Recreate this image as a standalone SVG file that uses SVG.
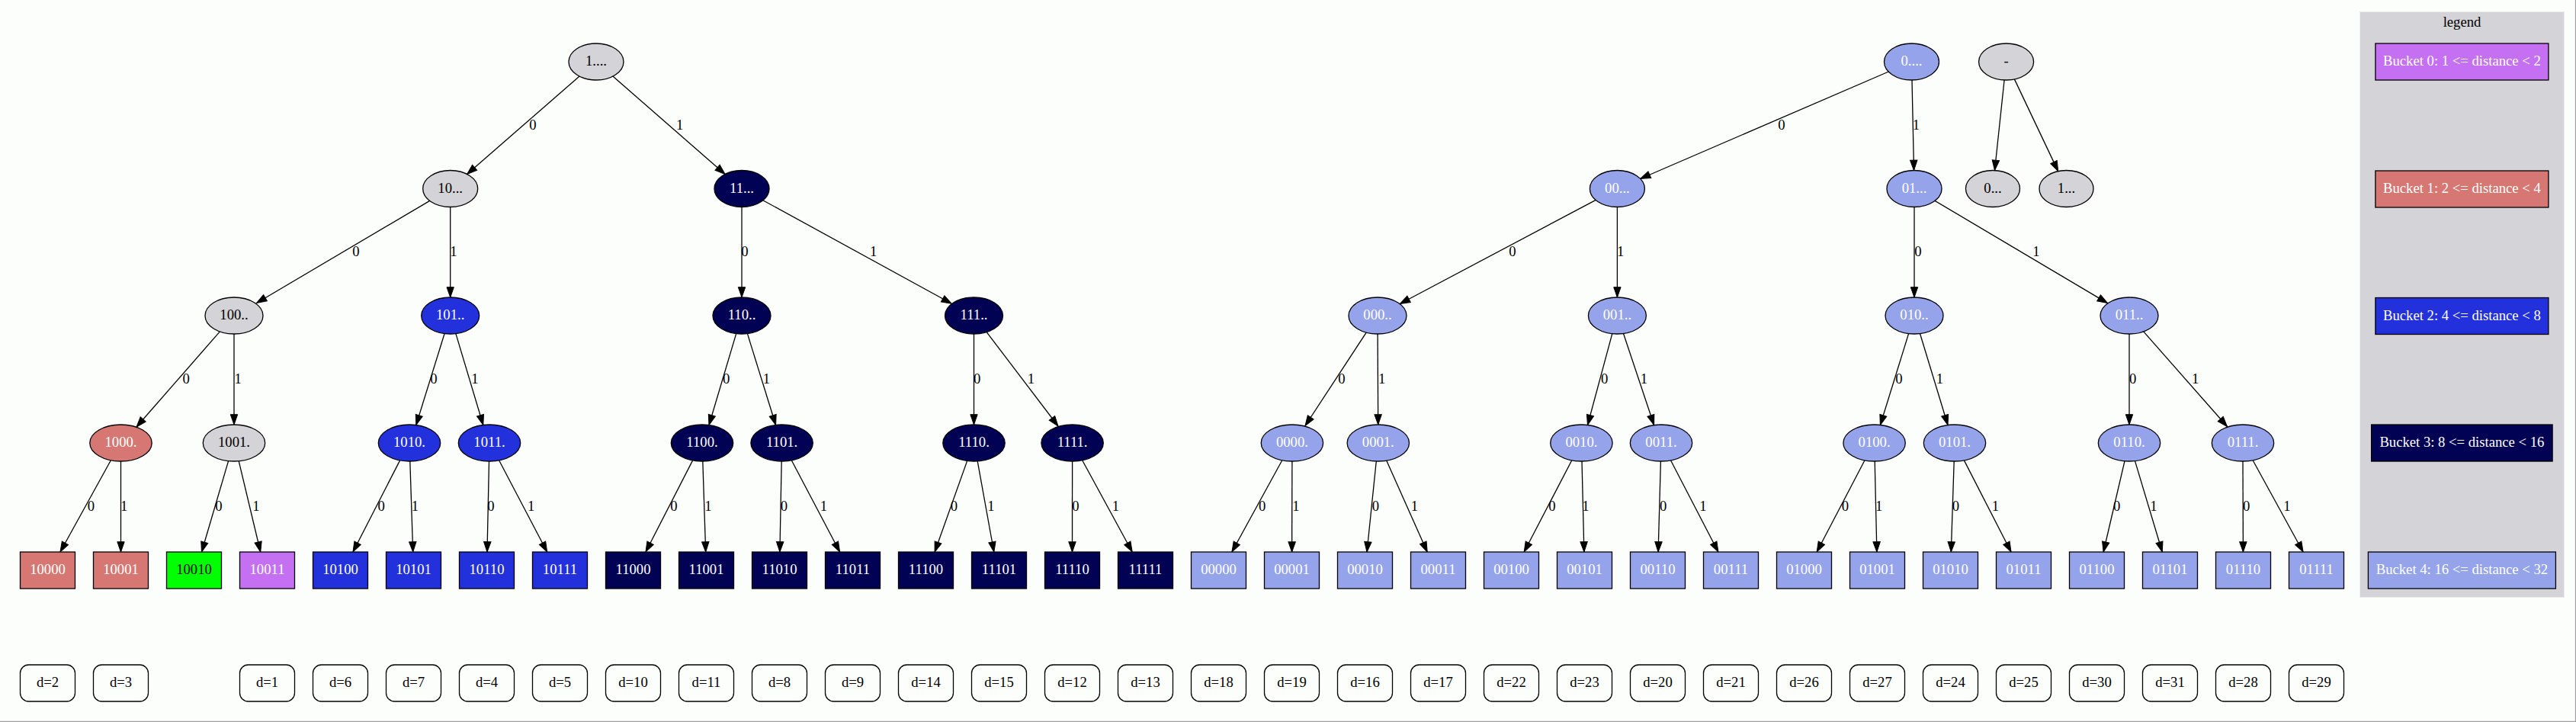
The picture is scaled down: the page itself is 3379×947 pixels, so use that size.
<svg xmlns="http://www.w3.org/2000/svg" width="3379" height="947" viewBox="0 0 3379 947">
<style>
.n{stroke:#000;stroke-width:1.3}
.g{fill:#d4d3d7}.r{fill:#d67773}.gr{fill:#00ff00}.v{fill:#c570f2}.b{fill:#2331dd}.nv{fill:#020255}.lb{fill:#95a3ea}
.t{font-family:"Liberation Serif","Times New Roman",serif;font-size:18.67px;text-anchor:middle;fill:#000}
.w{fill:#fff}
.e{stroke:#000;stroke-width:1.3;fill:none;marker-end:url(#ah)}
.d{fill:none;stroke:#000;stroke-width:1.3}
</style>
<defs>
<marker id="ah" markerUnits="userSpaceOnUse" markerWidth="15" markerHeight="11" refX="13.3" refY="4.67" orient="auto" overflow="visible"><path d="M0,0 L13.3,4.67 L0,9.33 Z" fill="#000" stroke="#000" stroke-width="1"/></marker>
</defs>
<rect x="0" y="0" width="3379" height="947" fill="#fcfefc"/>
<line x1="3378.5" y1="0" x2="3378.5" y2="947" stroke="#a0a0a0" stroke-width="1.3"/>
<line x1="0" y1="946.3" x2="3379" y2="946.3" stroke="#a0a0a0" stroke-width="1.3"/>

<g id="legend">
<rect x="3095.5" y="15.5" width="268" height="768" fill="#d4d3d7" stroke="#ececec" stroke-width="1"/>
<text class="t" x="3229.5" y="35">legend</text>
<g id="bucket0"><rect class="n v" x="3115.9" y="57" width="227" height="48"/><text class="t w" x="3229.4" y="86">Bucket 0: 1 &lt;= distance &lt; 2</text></g>
<g id="bucket1"><rect class="n r" x="3115.9" y="224" width="227" height="48"/><text class="t w" x="3229.4" y="253">Bucket 1: 2 &lt;= distance &lt; 4</text></g>
<g id="bucket2"><rect class="n b" x="3115.9" y="390.5" width="227" height="48"/><text class="t w" x="3229.4" y="419.5">Bucket 2: 4 &lt;= distance &lt; 8</text></g>
<g id="bucket3"><rect class="n nv" x="3110.6" y="557" width="237.5" height="48"/><text class="t w" x="3229.4" y="586">Bucket 3: 8 &lt;= distance &lt; 16</text></g>
<g id="bucket4"><rect class="n lb" x="3106.4" y="724" width="246" height="48"/><text class="t w" x="3229.4" y="753">Bucket 4: 16 &lt;= distance &lt; 32</text></g>
</g>

<g id="connectors">
<path class="e" d="M760.1,100.1 L612.6,228.5"/>
<path class="e" d="M803.9,100.1 L951.1,228.4"/>
<path class="e" d="M2477.3,94 L2151.6,234.5"/>
<path class="e" d="M2508,105 L2510.5,223.5"/>
<path class="e" d="M2629.1,105 L2616.5,223.5"/>
<path class="e" d="M2642.4,103.9 L2699.7,224.6"/>

<path class="e" d="M563.7,263.4 L336.5,397.5"/>
<path class="e" d="M590.7,271.5 L590.7,390"/>
<path class="e" d="M973,271.5 L973,390"/>
<path class="e" d="M1000.8,262.7 L1248.3,398.3"/>
<path class="e" d="M2093.2,262.4 L1836.3,398.5"/>
<path class="e" d="M2121.4,271.5 L2121.4,390"/>
<path class="e" d="M2511,271.5 L2511,390"/>
<path class="e" d="M2538,263.4 L2764.5,397.6"/>

<path class="e" d="M288.4,434.9 L179,560"/>
<path class="e" d="M307,438 L307,557"/>
<path class="e" d="M583.1,437.5 L545.8,557.5"/>
<path class="e" d="M597.9,437.6 L633.8,557.5"/>
<path class="e" d="M965.7,437.6 L930,557.5"/>
<path class="e" d="M980.4,437.6 L1017.6,557.5"/>
<path class="e" d="M1277.5,438 L1277.5,557"/>
<path class="e" d="M1294.2,435.6 L1388,559"/>
<path class="e" d="M1792.2,436.1 L1712,558.5"/>
<path class="e" d="M1807.1,438 L1807.7,557"/>
<path class="e" d="M2114.8,437.6 L2082.5,557.5"/>
<path class="e" d="M2129.5,437.5 L2169.6,557.5"/>
<path class="e" d="M2503.6,437.6 L2466.4,557.5"/>
<path class="e" d="M2518.5,437.5 L2555,557.5"/>
<path class="e" d="M2793,438 L2793,557"/>
<path class="e" d="M2811.7,434.9 L2921.5,559.5"/>

<path class="e" d="M145.4,603.7 L79,724"/>
<path class="e" d="M158.5,605 L158.5,724"/>
<path class="e" d="M299.6,604.6 L264.5,724"/>
<path class="e" d="M313.2,604.7 L341.7,724"/>
<path class="e" d="M524.6,603.9 L463,724"/>
<path class="e" d="M537.8,605 L541.7,724"/>
<path class="e" d="M641.5,605 L639,724"/>
<path class="e" d="M654.6,603.8 L717.7,724"/>
<path class="e" d="M908.6,603.9 L847,724"/>
<path class="e" d="M921.8,605 L925.7,724"/>
<path class="e" d="M1025.2,605 L1022.9,724"/>
<path class="e" d="M1038.3,603.8 L1101.6,724"/>
<path class="e" d="M1268.7,604.4 L1226.1,724"/>
<path class="e" d="M1282.2,604.8 L1303.8,724"/>
<path class="e" d="M1406.6,605 L1406.5,724"/>
<path class="e" d="M1419.7,603.7 L1485.2,724"/>
<path class="e" d="M1681.8,603.7 L1615.9,724"/>
<path class="e" d="M1694.9,605 L1694.6,724"/>
<path class="e" d="M1805.3,605 L1793,724"/>
<path class="e" d="M1818.7,604.1 L1872.2,724"/>
<path class="e" d="M2061.8,603.8 L1999.2,724"/>
<path class="e" d="M2075,605 L2077.9,724"/>
<path class="e" d="M2178.4,605 L2175.1,724"/>
<path class="e" d="M2191.5,603.8 L2253.9,724"/>
<path class="e" d="M2446,603.8 L2383.2,724"/>
<path class="e" d="M2459.2,605 L2461.9,724"/>
<path class="e" d="M2563.2,605 L2559.3,724"/>
<path class="e" d="M2576.4,603.9 L2638,724"/>
<path class="e" d="M2787,604.7 L2759.1,724"/>
<path class="e" d="M2800.5,604.6 L2836.3,724"/>
<path class="e" d="M2942,605 L2942.4,724"/>
<path class="e" d="M2955.1,603.7 L3021.1,724"/>

<g id="edge-labels" class="t">
<text x="699" y="170">0</text><text x="891.6" y="170">1</text><text x="2337" y="170">0</text><text x="2513.5" y="170">1</text>
<text x="467" y="336">0</text><text x="595" y="336">1</text><text x="977" y="336">0</text><text x="1145.6" y="336">1</text>
<text x="1984" y="336">0</text><text x="2125.6" y="336">1</text><text x="2515.8" y="336">0</text><text x="2671" y="336">1</text>
<text x="244.1" y="502.5">0</text><text x="312.2" y="502.5">1</text><text x="569" y="502.5">0</text><text x="623" y="502.5">1</text>
<text x="952.6" y="502.5">0</text><text x="1005.3" y="502.5">1</text><text x="1281.7" y="502.5">0</text><text x="1352.5" y="502.5">1</text>
<text x="1760" y="502.5">0</text><text x="1812.7" y="502.5">1</text><text x="2104.6" y="502.5">0</text><text x="2156.5" y="502.5">1</text>
<text x="2491" y="502.5">0</text><text x="2544.4" y="502.5">1</text><text x="2797.7" y="502.5">0</text><text x="2879.7" y="502.5">1</text>
<text x="119.3" y="670">0</text><text x="162.7" y="670">1</text><text x="286.9" y="670">0</text><text x="336" y="670">1</text>
<text x="500.2" y="670">0</text><text x="544.4" y="670">1</text><text x="644" y="670">0</text><text x="696.6" y="670">1</text>
<text x="883.9" y="670">0</text><text x="928.8" y="670">1</text><text x="1028.4" y="670">0</text><text x="1080.3" y="670">1</text>
<text x="1251.5" y="670">0</text><text x="1300" y="670">1</text><text x="1410.8" y="670">0</text><text x="1463.4" y="670">1</text>
<text x="1655.6" y="670">0</text><text x="1699.8" y="670">1</text><text x="1804.3" y="670">0</text><text x="1855.5" y="670">1</text>
<text x="2035.8" y="670">0</text><text x="2080" y="670">1</text><text x="2181.7" y="670">0</text><text x="2233.8" y="670">1</text>
<text x="2420.3" y="670">0</text><text x="2464.7" y="670">1</text><text x="2565.4" y="670">0</text><text x="2617.3" y="670">1</text>
<text x="2776.7" y="670">0</text><text x="2824.8" y="670">1</text><text x="2946.6" y="670">0</text><text x="3000" y="670">1</text>
</g>
</g>

<g id="n-1"><ellipse class="n g" cx="782" cy="81" rx="36" ry="24"/><text class="t" x="782" y="86">1....</text></g>
<g id="n-0"><ellipse class="n lb" cx="2507.5" cy="81" rx="36" ry="24"/><text class="t w" x="2507.5" y="86">0....</text></g>
<g id="n-dash"><ellipse class="n g" cx="2631.6" cy="81" rx="36" ry="24"/><text class="t" x="2631.6" y="86">-</text></g>

<g id="n-10"><ellipse class="n g" cx="590.7" cy="247.5" rx="36" ry="24"/><text class="t" x="590.7" y="252.5">10...</text></g>
<g id="n-11"><ellipse class="n nv" cx="973" cy="247.5" rx="36" ry="24"/><text class="t w" x="973" y="252.5">11...</text></g>
<g id="n-00"><ellipse class="n lb" cx="2121.4" cy="247.5" rx="36" ry="24"/><text class="t w" x="2121.4" y="252.5">00...</text></g>
<g id="n-01"><ellipse class="n lb" cx="2511" cy="247.5" rx="36" ry="24"/><text class="t w" x="2511" y="252.5">01...</text></g>
<g id="n-0x"><ellipse class="n g" cx="2614" cy="247.5" rx="35.5" ry="24"/><text class="t" x="2614" y="252.5">0...</text></g>
<g id="n-1x"><ellipse class="n g" cx="2710.5" cy="247.5" rx="35.5" ry="24"/><text class="t" x="2710.5" y="252.5">1...</text></g>

<g id="n-100"><ellipse class="n g" cx="307" cy="414" rx="38" ry="24"/><text class="t" x="307" y="419">100..</text></g>
<g id="n-101"><ellipse class="n b" cx="590.7" cy="414" rx="38" ry="24"/><text class="t w" x="590.7" y="419">101..</text></g>
<g id="n-110"><ellipse class="n nv" cx="973" cy="414" rx="38" ry="24"/><text class="t w" x="973" y="419">110..</text></g>
<g id="n-111"><ellipse class="n nv" cx="1277.5" cy="414" rx="38" ry="24"/><text class="t w" x="1277.5" y="419">111..</text></g>
<g id="n-000"><ellipse class="n lb" cx="1807" cy="414" rx="38" ry="24"/><text class="t w" x="1807" y="419">000..</text></g>
<g id="n-001"><ellipse class="n lb" cx="2121.4" cy="414" rx="38" ry="24"/><text class="t w" x="2121.4" y="419">001..</text></g>
<g id="n-010"><ellipse class="n lb" cx="2511" cy="414" rx="38" ry="24"/><text class="t w" x="2511" y="419">010..</text></g>
<g id="n-011"><ellipse class="n lb" cx="2793" cy="414" rx="38" ry="24"/><text class="t w" x="2793" y="419">011..</text></g>

<g id="n-1000"><ellipse class="n r" cx="158.5" cy="581" rx="40.7" ry="24"/><text class="t w" x="158.5" y="586">1000.</text></g>
<g id="n-1001"><ellipse class="n g" cx="307" cy="581" rx="40.7" ry="24"/><text class="t" x="307" y="586">1001.</text></g>
<g id="n-1010"><ellipse class="n b" cx="537" cy="581" rx="40.7" ry="24"/><text class="t w" x="537" y="586">1010.</text></g>
<g id="n-1011"><ellipse class="n b" cx="642" cy="581" rx="40.7" ry="24"/><text class="t w" x="642" y="586">1011.</text></g>
<g id="n-1100"><ellipse class="n nv" cx="921" cy="581" rx="40.7" ry="24"/><text class="t w" x="921" y="586">1100.</text></g>
<g id="n-1101"><ellipse class="n nv" cx="1025.6" cy="581" rx="40.7" ry="24"/><text class="t w" x="1025.6" y="586">1101.</text></g>
<g id="n-1110"><ellipse class="n nv" cx="1277.5" cy="581" rx="40.7" ry="24"/><text class="t w" x="1277.5" y="586">1110.</text></g>
<g id="n-1111"><ellipse class="n nv" cx="1406.6" cy="581" rx="40.7" ry="24"/><text class="t w" x="1406.6" y="586">1111.</text></g>
<g id="n-0000"><ellipse class="n lb" cx="1694.9" cy="581" rx="40.7" ry="24"/><text class="t w" x="1694.9" y="586">0000.</text></g>
<g id="n-0001"><ellipse class="n lb" cx="1807.8" cy="581" rx="40.7" ry="24"/><text class="t w" x="1807.8" y="586">0001.</text></g>
<g id="n-0010"><ellipse class="n lb" cx="2074.4" cy="581" rx="40.7" ry="24"/><text class="t w" x="2074.4" y="586">0010.</text></g>
<g id="n-0011"><ellipse class="n lb" cx="2179" cy="581" rx="40.7" ry="24"/><text class="t w" x="2179" y="586">0011.</text></g>
<g id="n-0100"><ellipse class="n lb" cx="2458.6" cy="581" rx="40.7" ry="24"/><text class="t w" x="2458.6" y="586">0100.</text></g>
<g id="n-0101"><ellipse class="n lb" cx="2564" cy="581" rx="40.7" ry="24"/><text class="t w" x="2564" y="586">0101.</text></g>
<g id="n-0110"><ellipse class="n lb" cx="2793" cy="581" rx="40.7" ry="24"/><text class="t w" x="2793" y="586">0110.</text></g>
<g id="n-0111"><ellipse class="n lb" cx="2942" cy="581" rx="40.7" ry="24"/><text class="t w" x="2942" y="586">0111.</text></g>

<g id="leaf-10000"><rect class="n r" x="26.5" y="724" width="72" height="48"/><text class="t w" x="62.5" y="753">10000</text></g>
<g id="leaf-10001"><rect class="n r" x="122.5" y="724" width="72" height="48"/><text class="t w" x="158.5" y="753">10001</text></g>
<g id="leaf-10010"><rect class="n gr" x="218.5" y="724" width="72" height="48"/><text class="t" x="254.5" y="753">10010</text></g>
<g id="leaf-10011"><rect class="n v" x="314.5" y="724" width="72" height="48"/><text class="t w" x="350.5" y="753">10011</text></g>
<g id="leaf-10100"><rect class="n b" x="410.5" y="724" width="72" height="48"/><text class="t w" x="446.5" y="753">10100</text></g>
<g id="leaf-10101"><rect class="n b" x="506.5" y="724" width="72" height="48"/><text class="t w" x="542.5" y="753">10101</text></g>
<g id="leaf-10110"><rect class="n b" x="602.5" y="724" width="72" height="48"/><text class="t w" x="638.5" y="753">10110</text></g>
<g id="leaf-10111"><rect class="n b" x="698.5" y="724" width="72" height="48"/><text class="t w" x="734.5" y="753">10111</text></g>
<g id="leaf-11000"><rect class="n nv" x="794.5" y="724" width="72" height="48"/><text class="t w" x="830.5" y="753">11000</text></g>
<g id="leaf-11001"><rect class="n nv" x="890.5" y="724" width="72" height="48"/><text class="t w" x="926.5" y="753">11001</text></g>
<g id="leaf-11010"><rect class="n nv" x="986.5" y="724" width="72" height="48"/><text class="t w" x="1022.5" y="753">11010</text></g>
<g id="leaf-11011"><rect class="n nv" x="1082.5" y="724" width="72" height="48"/><text class="t w" x="1118.5" y="753">11011</text></g>
<g id="leaf-11100"><rect class="n nv" x="1178.5" y="724" width="72" height="48"/><text class="t w" x="1214.5" y="753">11100</text></g>
<g id="leaf-11101"><rect class="n nv" x="1274.5" y="724" width="72" height="48"/><text class="t w" x="1310.5" y="753">11101</text></g>
<g id="leaf-11110"><rect class="n nv" x="1370.5" y="724" width="72" height="48"/><text class="t w" x="1406.5" y="753">11110</text></g>
<g id="leaf-11111"><rect class="n nv" x="1466.5" y="724" width="72" height="48"/><text class="t w" x="1502.5" y="753">11111</text></g>
<g id="leaf-00000"><rect class="n lb" x="1562.5" y="724" width="72" height="48"/><text class="t w" x="1598.5" y="753">00000</text></g>
<g id="leaf-00001"><rect class="n lb" x="1658.5" y="724" width="72" height="48"/><text class="t w" x="1694.5" y="753">00001</text></g>
<g id="leaf-00010"><rect class="n lb" x="1754.5" y="724" width="72" height="48"/><text class="t w" x="1790.5" y="753">00010</text></g>
<g id="leaf-00011"><rect class="n lb" x="1850.5" y="724" width="72" height="48"/><text class="t w" x="1886.5" y="753">00011</text></g>
<g id="leaf-00100"><rect class="n lb" x="1946.5" y="724" width="72" height="48"/><text class="t w" x="1982.5" y="753">00100</text></g>
<g id="leaf-00101"><rect class="n lb" x="2042.5" y="724" width="72" height="48"/><text class="t w" x="2078.5" y="753">00101</text></g>
<g id="leaf-00110"><rect class="n lb" x="2138.5" y="724" width="72" height="48"/><text class="t w" x="2174.5" y="753">00110</text></g>
<g id="leaf-00111"><rect class="n lb" x="2234.5" y="724" width="72" height="48"/><text class="t w" x="2270.5" y="753">00111</text></g>
<g id="leaf-01000"><rect class="n lb" x="2330.5" y="724" width="72" height="48"/><text class="t w" x="2366.5" y="753">01000</text></g>
<g id="leaf-01001"><rect class="n lb" x="2426.5" y="724" width="72" height="48"/><text class="t w" x="2462.5" y="753">01001</text></g>
<g id="leaf-01010"><rect class="n lb" x="2522.5" y="724" width="72" height="48"/><text class="t w" x="2558.5" y="753">01010</text></g>
<g id="leaf-01011"><rect class="n lb" x="2618.5" y="724" width="72" height="48"/><text class="t w" x="2654.5" y="753">01011</text></g>
<g id="leaf-01100"><rect class="n lb" x="2714.5" y="724" width="72" height="48"/><text class="t w" x="2750.5" y="753">01100</text></g>
<g id="leaf-01101"><rect class="n lb" x="2810.5" y="724" width="72" height="48"/><text class="t w" x="2846.5" y="753">01101</text></g>
<g id="leaf-01110"><rect class="n lb" x="2906.5" y="724" width="72" height="48"/><text class="t w" x="2942.5" y="753">01110</text></g>
<g id="leaf-01111"><rect class="n lb" x="3002.5" y="724" width="72" height="48"/><text class="t w" x="3038.5" y="753">01111</text></g>

<g id="dist-2"><rect class="d" x="26.5" y="872" width="72" height="48" rx="11"/><text class="t" x="62.5" y="901">d=2</text></g>
<g id="dist-3"><rect class="d" x="122.5" y="872" width="72" height="48" rx="11"/><text class="t" x="158.5" y="901">d=3</text></g>
<g id="dist-1"><rect class="d" x="314.5" y="872" width="72" height="48" rx="11"/><text class="t" x="350.5" y="901">d=1</text></g>
<g id="dist-6"><rect class="d" x="410.5" y="872" width="72" height="48" rx="11"/><text class="t" x="446.5" y="901">d=6</text></g>
<g id="dist-7"><rect class="d" x="506.5" y="872" width="72" height="48" rx="11"/><text class="t" x="542.5" y="901">d=7</text></g>
<g id="dist-4"><rect class="d" x="602.5" y="872" width="72" height="48" rx="11"/><text class="t" x="638.5" y="901">d=4</text></g>
<g id="dist-5"><rect class="d" x="698.5" y="872" width="72" height="48" rx="11"/><text class="t" x="734.5" y="901">d=5</text></g>
<g id="dist-10"><rect class="d" x="794.5" y="872" width="72" height="48" rx="11"/><text class="t" x="830.5" y="901">d=10</text></g>
<g id="dist-11"><rect class="d" x="890.5" y="872" width="72" height="48" rx="11"/><text class="t" x="926.5" y="901">d=11</text></g>
<g id="dist-8"><rect class="d" x="986.5" y="872" width="72" height="48" rx="11"/><text class="t" x="1022.5" y="901">d=8</text></g>
<g id="dist-9"><rect class="d" x="1082.5" y="872" width="72" height="48" rx="11"/><text class="t" x="1118.5" y="901">d=9</text></g>
<g id="dist-14"><rect class="d" x="1178.5" y="872" width="72" height="48" rx="11"/><text class="t" x="1214.5" y="901">d=14</text></g>
<g id="dist-15"><rect class="d" x="1274.5" y="872" width="72" height="48" rx="11"/><text class="t" x="1310.5" y="901">d=15</text></g>
<g id="dist-12"><rect class="d" x="1370.5" y="872" width="72" height="48" rx="11"/><text class="t" x="1406.5" y="901">d=12</text></g>
<g id="dist-13"><rect class="d" x="1466.5" y="872" width="72" height="48" rx="11"/><text class="t" x="1502.5" y="901">d=13</text></g>
<g id="dist-18"><rect class="d" x="1562.5" y="872" width="72" height="48" rx="11"/><text class="t" x="1598.5" y="901">d=18</text></g>
<g id="dist-19"><rect class="d" x="1658.5" y="872" width="72" height="48" rx="11"/><text class="t" x="1694.5" y="901">d=19</text></g>
<g id="dist-16"><rect class="d" x="1754.5" y="872" width="72" height="48" rx="11"/><text class="t" x="1790.5" y="901">d=16</text></g>
<g id="dist-17"><rect class="d" x="1850.5" y="872" width="72" height="48" rx="11"/><text class="t" x="1886.5" y="901">d=17</text></g>
<g id="dist-22"><rect class="d" x="1946.5" y="872" width="72" height="48" rx="11"/><text class="t" x="1982.5" y="901">d=22</text></g>
<g id="dist-23"><rect class="d" x="2042.5" y="872" width="72" height="48" rx="11"/><text class="t" x="2078.5" y="901">d=23</text></g>
<g id="dist-20"><rect class="d" x="2138.5" y="872" width="72" height="48" rx="11"/><text class="t" x="2174.5" y="901">d=20</text></g>
<g id="dist-21"><rect class="d" x="2234.5" y="872" width="72" height="48" rx="11"/><text class="t" x="2270.5" y="901">d=21</text></g>
<g id="dist-26"><rect class="d" x="2330.5" y="872" width="72" height="48" rx="11"/><text class="t" x="2366.5" y="901">d=26</text></g>
<g id="dist-27"><rect class="d" x="2426.5" y="872" width="72" height="48" rx="11"/><text class="t" x="2462.5" y="901">d=27</text></g>
<g id="dist-24"><rect class="d" x="2522.5" y="872" width="72" height="48" rx="11"/><text class="t" x="2558.5" y="901">d=24</text></g>
<g id="dist-25"><rect class="d" x="2618.5" y="872" width="72" height="48" rx="11"/><text class="t" x="2654.5" y="901">d=25</text></g>
<g id="dist-30"><rect class="d" x="2714.5" y="872" width="72" height="48" rx="11"/><text class="t" x="2750.5" y="901">d=30</text></g>
<g id="dist-31"><rect class="d" x="2810.5" y="872" width="72" height="48" rx="11"/><text class="t" x="2846.5" y="901">d=31</text></g>
<g id="dist-28"><rect class="d" x="2906.5" y="872" width="72" height="48" rx="11"/><text class="t" x="2942.5" y="901">d=28</text></g>
<g id="dist-29"><rect class="d" x="3002.5" y="872" width="72" height="48" rx="11"/><text class="t" x="3038.5" y="901">d=29</text></g>
</svg>
